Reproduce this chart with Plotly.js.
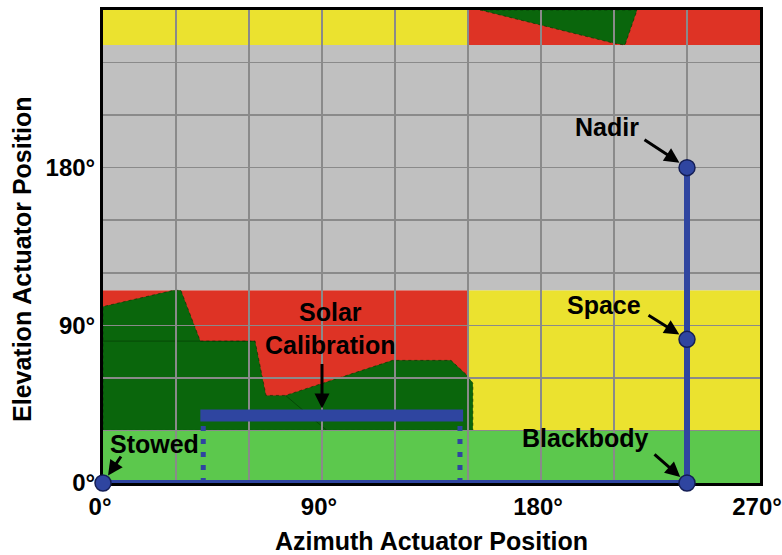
<!DOCTYPE html>
<html>
<head>
<meta charset="utf-8">
<script src="https://cdn.plot.ly/plotly-3.0.1.min.js"></script>
<style>html,body{margin:0;padding:0;background:#fff;}#chart{width:782px;height:555px;}</style>
</head>
<body>
<div id="chart"></div>
<script>
// ---- tick data ----
const gridVals = [0, 30, 60, 90, 120, 150, 180, 210, 240, 270];
const azTickText = ['0°', '', '', '90°', '', '', '180°', '', '', '270°'];
const elTickText = ['0°', '', '', '90°', '', '', '180°', '', '', ''];
const xTitle = 'Azimuth Actuator Position';
const yTitle = 'Elevation Actuator Position';

// ---- background regions (azimuth x, elevation y) ----
const bandGreenX = [0, 270, 270, 0];      const bandGreenY = [0, 0, 30, 30];
const lowRedX = [0, 150, 150, 0];         const lowRedY = [30, 30, 110, 110];
const lowYellowX = [150, 270, 270, 150];  const lowYellowY = [30, 30, 110, 110];
const grayX = [0, 270, 270, 0];           const grayY = [110, 110, 250, 250];
const topYellowX = [0, 150, 150, 0];      const topYellowY = [250, 250, 270, 270];
const topRedX = [150, 270, 270, 150];     const topRedY = [250, 250, 270, 270];
const lowDarkX = [0, 0, 29, 32, 40, 62.5, 67, 75, 119, 143, 150, 152, 152];
const lowDarkY = [30, 100.7, 110, 110, 81, 81, 50, 50, 70, 70, 61, 57, 30];
const topDarkX = [155, 210, 214.5, 219.5];
const topDarkY = [270, 251, 250, 270];
const seamAX = [0, 62.5];  const seamAY = [81, 81];
const seamBX = [75, 92];   const seamBY = [50, 30];

// ---- scan path & positions ----
const pathX = [0, 240, 240];
const pathY = [0, 0, 180];
const posNames = ['Stowed', 'Blackbody', 'Space', 'Nadir'];
const posX = [0, 240, 240, 240];
const posY = [0, 0, 82, 180];
const solarX = [40, 148];
const solarY = [38.6, 38.6];
const solarDotLeftX = [41.2, 41.2];
const solarDotRightX = [146.7, 146.7];
const solarDotY = [0, 35];

const C = {
  yellow: '#ebe22f', red: '#de3325', dark: '#0a660c', light: '#5cc84d',
  gray: '#c0c0c0', blue: '#2f45a0', grid: '#8a8a8a'
};

function poly(xs, ys, color, line) {
  let d = 'M' + xs.map((x, i) => x + ',' + ys[i]).join(' L') + ' Z';
  return {type: 'path', path: d, xref: 'x', yref: 'y', layer: 'below',
          fillcolor: color, line: line || {width: 0}};
}
function seg(xs, ys) {
  return {type: 'line', xref: 'x', yref: 'y', layer: 'below',
          x0: xs[0], y0: ys[0], x1: xs[1], y1: ys[1],
          line: {color: 'rgba(0,40,0,0.6)', width: 0.8}};
}
const outline = {color: 'rgba(0,40,0,0.7)', width: 0.8, dash: 'dot'};
const shapes = [
  poly(bandGreenX, bandGreenY, C.light),
  poly(lowRedX, lowRedY, C.red),
  poly(lowYellowX, lowYellowY, C.yellow),
  poly(grayX, grayY, C.gray),
  poly(topYellowX, topYellowY, C.yellow),
  poly(topRedX, topRedY, C.red),
  poly(lowDarkX, lowDarkY, C.dark, outline),
  poly(topDarkX, topDarkY, C.dark, outline),
  seg(seamAX, seamAY),
  seg(seamBX, seamBY)
];

const traces = [
  {x: solarDotLeftX, y: solarDotY, mode: 'lines', line: {color: C.blue, width: 5, dash: '5px,8px'}, hoverinfo: 'skip', cliponaxis: false},
  {x: solarDotRightX, y: solarDotY, mode: 'lines', line: {color: C.blue, width: 5, dash: '5px,8px'}, hoverinfo: 'skip', cliponaxis: false},
  {x: solarX, y: solarY, mode: 'lines', line: {color: C.blue, width: 12}, hoverinfo: 'skip'},
  {x: pathX, y: pathY, mode: 'lines', line: {color: C.blue, width: 6}, cliponaxis: false, hoverinfo: 'skip'},
  {x: posX, y: posY, text: posNames, mode: 'markers', cliponaxis: false,
   marker: {size: 16, color: C.blue, line: {color: '#141e55', width: 1.5}}}
];

const tf = {family: 'Liberation Sans, Arial, sans-serif', size: 25, color: '#000', weight: 700};
const tickf = Object.assign({}, tf, {size: 24});
function label(text, x, y) {
  return {text: text, x: x, y: y, xref: 'x', yref: 'y', showarrow: false, font: tf};
}
function arrow(x, y, ax, ay, standoff) {
  return {text: '', x: x, y: y, xref: 'x', yref: 'y', ax: ax, ay: ay,
          showarrow: true, arrowhead: 2, arrowsize: 1, arrowwidth: 3,
          arrowcolor: '#000', standoff: standoff};
}
const annotations = [
  label('Nadir', 207.2, 203),
  arrow(posX[3], posY[3], -44, -29, 9),
  label('Space', 206, 101.7),
  arrow(posX[2], posY[2], -40, -25, 9),
  label('Blackbody', 198.1, 25.7),
  arrow(posX[1], posY[1], -34, -30, 9),
  label('Stowed', 21, 22.3),
  arrow(posX[0], posY[0], 19, -28, 9),
  label('Solar<br>Calibration', 93.3, 88),
  arrow(90, solarY[0], 0, -53, 7),
  {text: yTitle, xref: 'paper', yref: 'paper', x: -0.1233, y: 0.4736,
   xanchor: 'center', yanchor: 'middle', textangle: -90, showarrow: false, font: tf}
];

const axisCommon = {
  tickmode: 'array', tickvals: gridVals, showgrid: true, gridcolor: C.grid, gridwidth: 1.5,
  zeroline: false, showline: true, linecolor: '#000', linewidth: 3, mirror: true,
  ticks: '', tickfont: tickf, layer: 'below traces', fixedrange: true,
  ticklabeloverflow: 'allow'
};

const layout = {
  width: 782, height: 555,
  margin: {l: 103, r: 22, t: 10, b: 72},
  paper_bgcolor: '#fff', plot_bgcolor: '#fff',
  showlegend: false,
  xaxis: Object.assign({}, axisCommon, {range: [0, 270], ticktext: azTickText, ticklabelshift: -3,
    title: {text: xTitle, font: tf, standoff: 14}}),
  yaxis: Object.assign({}, axisCommon, {range: [0, 270], ticktext: elTickText}),
  shapes: shapes,
  annotations: annotations
};

Plotly.newPlot('chart', traces, layout, {displayModeBar: false, staticPlot: true});
</script>
</body>
</html>
